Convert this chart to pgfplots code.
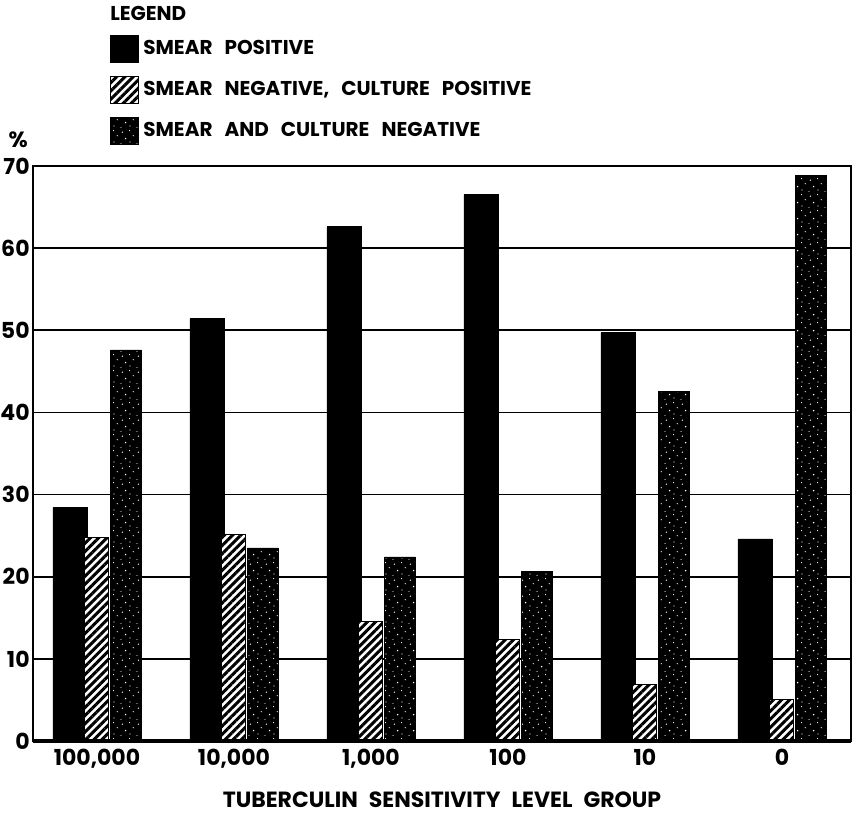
\documentclass[border=0pt]{standalone}
\usepackage{fontspec}
\setmainfont{Poppins}
\usepackage{pgfplots}
\usepackage{pgfplotstable}
\pgfplotsset{compat=1.18}
\usetikzlibrary{patterns,patterns.meta}

\pgfdeclarepatternformonly{specks}{\pgfqpoint{-1pt}{-1pt}}{\pgfqpoint{9pt}{9pt}}{\pgfqpoint{8pt}{8pt}}{
  \pgfpathcircle{\pgfqpoint{1pt}{1.5pt}}{0.35pt}
  \pgfpathcircle{\pgfqpoint{4.5pt}{0.8pt}}{0.3pt}
  \pgfpathcircle{\pgfqpoint{6.8pt}{3.2pt}}{0.4pt}
  \pgfpathcircle{\pgfqpoint{2.6pt}{4.6pt}}{0.3pt}
  \pgfpathcircle{\pgfqpoint{5.2pt}{6.4pt}}{0.35pt}
  \pgfpathcircle{\pgfqpoint{0.8pt}{7.2pt}}{0.3pt}
  \pgfusepath{fill}
}

\newcommand\tickfont{\fontsize{11}{13}\selectfont\bfseries}
\newcommand\titfont{\fontsize{10}{12}\selectfont\bfseries}
\newcommand\legfont{\fontsize{10}{12}\selectfont\bfseries\spaceskip=0.6em\relax}
\newcommand\labfont{\fontsize{11}{13}\selectfont\bfseries\spaceskip=0.5em\relax}

\pgfplotstableread{
x  smear  hatch  stip
0  28.4   24.8   47.6
1  51.4   25.1   23.5
2  62.6   14.5   22.4
3  66.5   12.4   20.6
4  49.7   6.9    42.6
5  24.6   5.0    68.9
}\data

\begin{document}
\begin{tikzpicture}
\useasboundingbox (-16.5pt,-38pt) rectangle (414pt,370.5pt);
\begin{axis}[
  at={(0pt,0pt)}, anchor=south west, scale only axis,
  width=409pt, height=287.5pt,
  xmin=-0.467, xmax=5.504, ymin=0, ymax=70,
  ytick={0,10,...,70}, xtick={0,...,5},
  xticklabels={{100,000},{10,000},{1,000},100,10,0},
  ymajorgrids, grid style={black, line width=0.9pt},
  major tick length=0pt,
  axis line style={line width=1.4pt},
  tick label style={font=\tickfont},
  yticklabel style={/pgf/number format/assume math mode=true, inner sep=1.5pt},
  xticklabel style={inner sep=2pt, yshift=-2pt},
  xlabel={TUBERCULIN SENSITIVITY LEVEL GROUP},
  xlabel style={font=\labfont, at={(axis description cs:0.5,-0.103)}, anchor=center},
  legend cell align=left,
  legend style={at={(axis description cs:0.094,1.229)}, anchor=north west,
    draw=none, fill=none, inner sep=0pt, row sep=6.5pt, font=\legfont,
    /tikz/every even column/.style={column sep=2pt}},
  myleg/.style={legend image code/.code={\draw[##1] (0pt,-6.75pt) rectangle (14pt,6.75pt);}},
  clip=false,
]
\addplot[ybar, bar width=17pt, bar shift=-13.5pt, fill=black, draw=black, line width=0.4pt, myleg]
  table[x=x, y=smear]{\data};
\addlegendentry{SMEAR POSITIVE}
\addplot[ybar, bar width=12pt, bar shift=0pt, fill=white, draw=black, line width=0.5pt,
  postaction={pattern={Lines[angle=45,distance=2.9pt,line width=1.5pt]}, pattern color=black}, myleg]
  table[x=x, y=hatch]{\data};
\addlegendentry{SMEAR NEGATIVE, CULTURE POSITIVE}
\addplot[ybar, bar width=15.5pt, bar shift=14.5pt, fill=black, draw=black, line width=0.4pt,
  postaction={pattern=specks, pattern color=white}, myleg]
  table[x=x, y=stip]{\data};
\addlegendentry{SMEAR AND CULTURE NEGATIVE}
\draw[line width=2.2pt] (rel axis cs:0,0) -- (rel axis cs:1,0);
\node[font=\titfont, anchor=west, inner sep=0pt] at (axis description cs:0.094,1.266) {LEGEND};
\node[font=\tickfont, inner sep=0pt] at (axis description cs:-0.018,1.045) {\%};
\end{axis}
\end{tikzpicture}
\end{document}
